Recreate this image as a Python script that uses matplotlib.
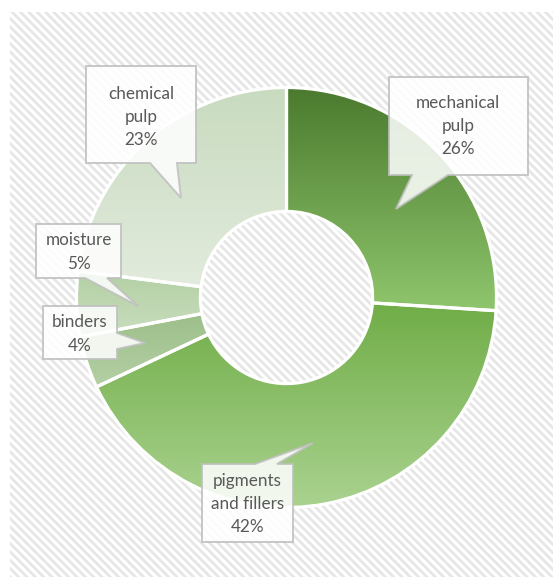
import numpy as np
import matplotlib
matplotlib.use("Agg")
import matplotlib.pyplot as plt
from matplotlib.patches import Rectangle, Polygon
from matplotlib.colors import to_rgb

plt.rcParams['font.family'] = ['Lato', 'DejaVu Sans']
plt.rcParams['hatch.linewidth'] = 2.0

# data
labels = ['mechanical\npulp', 'pigments\nand fillers', 'binders', 'moisture', 'chemical\npulp']
shares = [26, 42, 4, 5, 23]
# gradient per slice: top colour, bottom colour
top_colors = ['#4b7a2e', '#70ad47', '#9dbf89', '#b3d0a4', '#c8dbbf']
bottom_colors = ['#8fc66d', '#a9d28f', '#b4cfa5', '#c9ddbe', '#e2ebdd']

W, H = 553, 577
fig = plt.figure(figsize=(W / 100, H / 100), dpi=100)
ax = fig.add_axes([0, 0, 1, 1])

def py(y):
    # pixel row (from top) -> data y
    return H - y

# hatched background
ax.add_patch(Rectangle((10, 0), W - 10, py(12), facecolor='white',
                       edgecolor='#e6e6e6', linewidth=0, hatch='\\\\\\\\', zorder=0))

# donut
cx, cy, R = 286.5, py(297.5), 210
wedges, _ = ax.pie(shares, center=(cx, cy), radius=R, startangle=90,
                   counterclock=False,
                   wedgeprops=dict(width=R * 0.59, edgecolor='white', linewidth=2.3))
for w, c0, c1 in zip(wedges, top_colors, bottom_colors):
    w.set_facecolor('none')
    w.set_zorder(3)
    ext = w.get_path().get_extents()
    t = np.linspace(0, 1, 256)[:, None, None]
    grad = (1 - t) * np.array(to_rgb(c0)) + t * np.array(to_rgb(c1))
    im = ax.imshow(grad, extent=(ext.x0, ext.x1, ext.y0, ext.y1), origin='upper',
                   aspect='auto', zorder=2, interpolation='bilinear')
    im.set_clip_path(w)

# callout boxes: outline in pixel coords (x, y from top)
callouts = [
    [(389, 77), (528, 77), (528, 175), (448, 175), (396, 209), (412, 175), (389, 175)],
    [(202, 464), (255, 464), (313, 443), (277, 464), (293, 464), (293, 542), (202, 542)],
    [(43, 306), (117, 306), (117, 333), (145, 343), (117, 349), (117, 359), (43, 359)],
    [(36, 224), (121, 224), (121, 278), (107, 278), (138, 306), (85, 278), (36, 278)],
    [(86, 66), (196, 66), (196, 163), (177, 163), (181, 198), (150, 163), (86, 163)],
]
text_centers = [(458, 126), (247.5, 504), (80, 334), (78.5, 252), (141, 117)]

for lab, share, pts, (tx, ty) in zip(labels, shares, callouts, text_centers):
    poly = Polygon([(x, py(y)) for x, y in pts], closed=True, facecolor='white',
                   alpha=0.86, edgecolor='#bfbfbf', linewidth=1.4, zorder=5)
    ax.add_patch(poly)
    ax.text(tx, py(ty), f"{lab}\n{share}%", ha='center', va='center',
            fontsize=12.3, color='#595959', linespacing=1.55, zorder=6)

ax.set_xlim(0, W)
ax.set_ylim(0, H)
ax.set_aspect('auto')
ax.axis('off')

fig.savefig('out.png', dpi=100)
